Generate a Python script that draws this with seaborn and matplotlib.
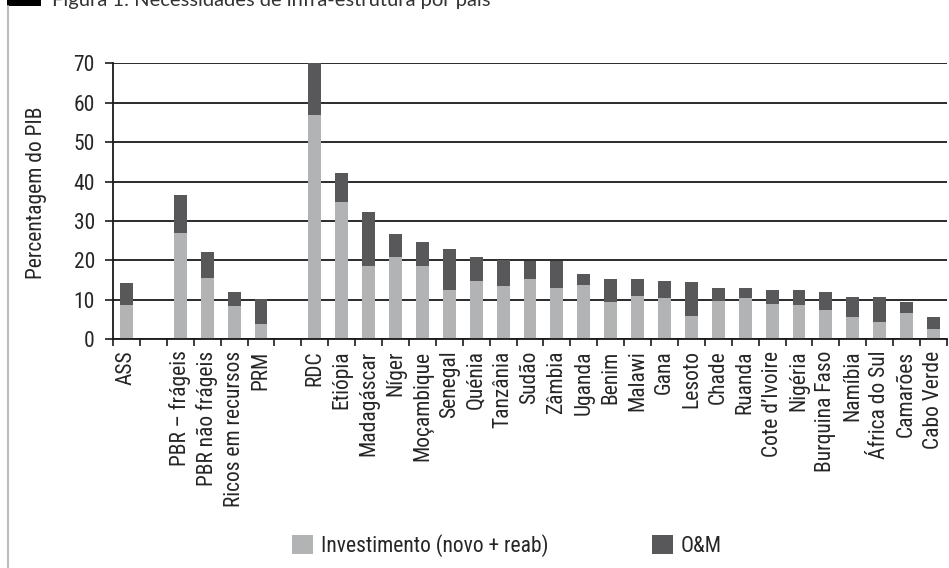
import matplotlib
matplotlib.use("Agg")
import matplotlib.pyplot as plt
from matplotlib.patches import Rectangle, Patch
from matplotlib.lines import Line2D
from matplotlib.ticker import FixedLocator
import seaborn as sns
import pandas as pd

categories = ["ASS", "PBR – frágeis", "PBR não frágeis", "Ricos em recursos", "PRM",
              "RDC", "Etiópia", "Madagáscar", "Níger", "Moçambique", "Senegal", "Quénia",
              "Tanzânia", "Sudão", "Zâmbia", "Uganda", "Benim", "Malawi", "Gana", "Lesoto",
              "Chade", "Ruanda", "Cote d’Ivoire", "Nigéria", "Burquina Faso", "Namíbia",
              "África do Sul", "Camarões", "Cabo Verde"]
order = ["ASS", " ", "PBR – frágeis", "PBR não frágeis", "Ricos em recursos", "PRM", "  ",
         "RDC", "Etiópia", "Madagáscar", "Níger", "Moçambique", "Senegal", "Quénia",
         "Tanzânia", "Sudão", "Zâmbia", "Uganda", "Benim", "Malawi", "Gana", "Lesoto",
         "Chade", "Ruanda", "Cote d’Ivoire", "Nigéria", "Burquina Faso", "Namíbia",
         "África do Sul", "Camarões", "Cabo Verde"]
investimento = [8.7, 27.0, 15.6, 8.5, 3.9,
                56.9, 34.7, 18.5, 21.0, 18.7, 12.4, 14.7,
                13.4, 15.2, 12.9, 13.7, 9.4, 10.9, 10.5, 5.9,
                9.8, 10.5, 9.0, 8.7, 7.5, 5.7,
                4.4, 6.7, 2.6]
om = [5.5, 9.6, 6.5, 3.5, 6.2,
      13.1, 7.5, 13.9, 5.6, 6.1, 10.4, 6.3,
      6.7, 4.6, 6.9, 2.8, 6.0, 4.3, 4.3, 8.7,
      3.3, 2.6, 3.5, 3.8, 4.5, 5.1,
      6.4, 2.8, 3.1]
yticks = [0, 10, 20, 30, 40, 50, 60, 70]
series_names = ["Investimento (novo + reab)", "O&M"]

LIGHT = "#b2b3b5"
DARK = "#58585a"

sns.set_style("white")
plt.rcParams["font.family"] = ["Roboto Condensed", "DejaVu Sans"]
FS = 15.5

df = pd.DataFrame({"pais": categories, "inv": investimento, "om": om})
df["total"] = df["inv"] + df["om"]

fig = plt.figure(figsize=(9.49, 5.68), dpi=100)
ax = fig.add_axes([113/949, 1-339.3/568, (947-113)/949, (339.3-63.3)/568])

sns.barplot(data=df, x="pais", y="total", order=order, color=DARK, saturation=1,
            width=0.48, ax=ax, linewidth=0, errorbar=None)
sns.barplot(data=df, x="pais", y="inv", order=order, color=LIGHT, saturation=1,
            width=0.48, ax=ax, linewidth=0, errorbar=None)

ax.set_ylim(0, 70)
ax.set_xlim(-0.5, len(order) - 0.5)
ax.set_yticks(yticks)
ax.set_axisbelow(True)
ax.yaxis.grid(True, color="#1a1a1a", linewidth=1.3)
ax.xaxis.grid(False)
for s in ["top", "right"]:
    ax.spines[s].set_visible(False)
for s in ["left", "bottom"]:
    ax.spines[s].set_color("#1a1a1a")
    ax.spines[s].set_linewidth(1.3)

ax.set_xlabel("")
ax.set_ylabel("Percentagem do PIB", fontsize=FS)
ax.yaxis.set_label_coords(-0.079, 0.532)
ax.tick_params(axis="y", which="major", direction="out", length=6, width=1.2,
               color="#1a1a1a", labelsize=FS, pad=7, left=True)
ax.set_xticks(range(len(order)))
ax.set_xticklabels(order, rotation=90, fontsize=FS)
ax.tick_params(axis="x", which="major", length=0, pad=8)
ax.xaxis.set_minor_locator(FixedLocator([i - 0.5 for i in range(len(order) + 1)]))
ax.tick_params(axis="x", which="minor", direction="out", length=5, width=1.2,
               color="#1a1a1a", bottom=True)

handles = [Patch(facecolor=LIGHT, edgecolor="none"), Patch(facecolor=DARK, edgecolor="none")]
fig.legend(handles, series_names, loc="center", bbox_to_anchor=(0.534, 0.039),
           ncol=2, frameon=False, fontsize=FS, handlelength=1.0, handleheight=1.0,
           handletextpad=0.35, columnspacing=4.8)

# frame decorations of the cropped figure
fig.patches.append(Rectangle((7/949, 1-6/568), 34/949, 6/568, transform=fig.transFigure,
                             facecolor="black", edgecolor="none"))
fig.lines.append(Line2D([7.5/949, 7.5/949], [0, 1-6/568], transform=fig.transFigure,
                        color="#bdbdbd", linewidth=1.5))
fig.text(52/949, 1-6/568, "Figura 1: Necessidades de infra-estrutura por país",
         fontsize=14.5, color="#333333", va="baseline", ha="left",
         family=["Lato", "DejaVu Sans"])

fig.savefig("out.png", dpi=100)
